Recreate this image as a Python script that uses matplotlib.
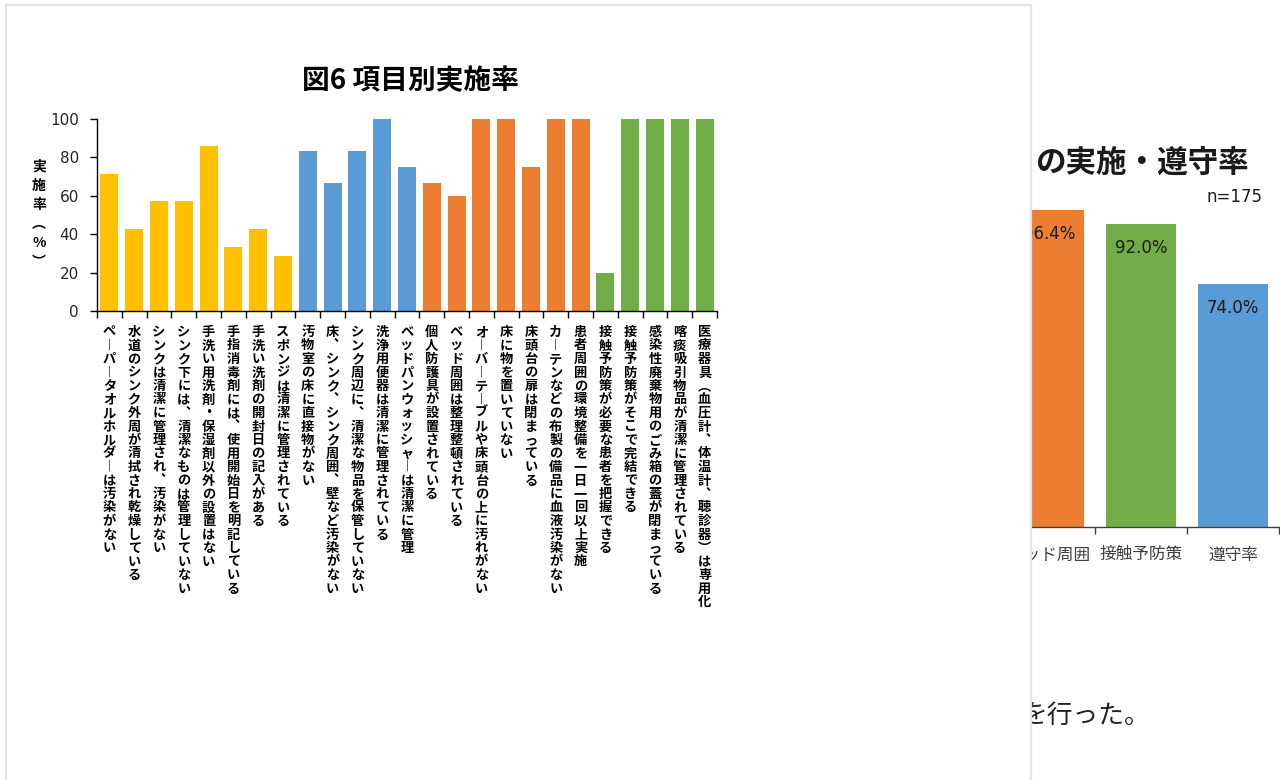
import matplotlib
matplotlib.use("Agg")
import matplotlib.pyplot as plt
from matplotlib.patches import Rectangle
import numpy as np

plt.rcParams['font.family'] = ['Noto Sans CJK JP', 'DejaVu Sans']

# ---------------- data ----------------
title_main = "図6 項目別実施率"
ylabel_main = "実施率（%）"
items = [
    "ペーパータオルホルダーは汚染がない",
    "水道のシンク外周が清拭され乾燥している",
    "シンクは清潔に管理され、汚染がない",
    "シンク下には、清潔なものは管理していない",
    "手洗い用洗剤・保湿剤以外の設置はない",
    "手指消毒剤には、使用開始日を明記している",
    "手洗い洗剤の開封日の記入がある",
    "スポンジは清潔に管理されている",
    "汚物室の床に直接物がない",
    "床、シンク、シンク周囲、壁など汚染がない",
    "シンク周辺に、清潔な物品を保管していない",
    "洗浄用便器は清潔に管理されている",
    "ベッドパンウォッシャーは清潔に管理",
    "個人防護具が設置されている",
    "ベッド周囲は整理整頓されている",
    "オーバーテーブルや床頭台の上に汚れがない",
    "床に物を置いていない",
    "床頭台の扉は閉まっている",
    "カーテンなどの布製の備品に血液汚染がない",
    "患者周囲の環境整備を一日一回以上実施",
    "接触予防策が必要な患者を把握できる",
    "接触予防策がそこで完結できる",
    "感染性廃棄物用のごみ箱の蓋が閉まっている",
    "喀痰吸引物品が清潔に管理されている",
    "医療器具(血圧計、体温計、聴診器)は専用化",
]
rates = [71.4, 42.9, 57.1, 57.1, 85.7, 33.3, 42.9, 28.6,
         83.3, 66.7, 83.3, 100.0, 75.0,
         66.7, 60.0, 100.0, 100.0, 75.0, 100.0, 100.0,
         20.0, 100.0, 100.0, 100.0, 100.0]
groups = ["手洗い"] * 8 + ["汚物室"] * 5 + ["ベッド周囲"] * 7 + ["接触予防策"] * 5
group_colors = {"手洗い": "#FFC000", "汚物室": "#5B9BD5",
                "ベッド周囲": "#ED7D31", "接触予防策": "#70AD47"}
yticks_main = [0, 20, 40, 60, 80, 100]

# background (partly hidden) chart
back_title = "の実施・遵守率"
back_note = "n=175"
back_cats = ["ベッド周囲", "接触予防策", "遵守率"]
back_vals = [96.4, 92.0, 74.0]
back_colors = ["#ED7D31", "#70AD47", "#5B9BD5"]
back_text = "を行った。"

# ---------------- figure ----------------
W, H = 1280, 780
fig = plt.figure(figsize=(W / 100, H / 100), dpi=100)
fig.patch.set_facecolor("white")

def fx(px):
    return px / W

def fy(py):
    return 1 - py / H

# ---- background chart ----
axb = fig.add_axes([fx(1003), fy(527), fx(1279) - fx(1003), fy(198) - fy(527)], zorder=0)
xb = np.arange(len(back_cats))
axb.bar(xb, back_vals, width=0.77, color=back_colors)
axb.set_xlim(-0.5, len(back_cats) - 0.5)
axb.set_ylim(0, 100)
for s in ("top", "right", "left"):
    axb.spines[s].set_visible(False)
axb.spines["bottom"].set_color("#404040")
axb.spines["bottom"].set_linewidth(1.0)
axb.set_yticks([])
axb.set_xticks(np.arange(len(back_cats) + 1) - 0.5)
axb.set_xticklabels([])
axb.tick_params(axis="x", length=5, width=1, color="#404040", direction="out")
axb.set_xticks(xb, minor=True)
axb.set_xticklabels(back_cats, minor=True, fontsize=12, color="#404040")
axb.tick_params(axis="x", which="minor", length=0, pad=14)
for x, v in zip(xb, back_vals):
    axb.annotate(f"{v:.1f}%", xy=(x, v), xytext=(0, -24), textcoords="offset pixels",
                 ha="center", va="center", fontsize=12, color="#1a1a1a",
                 family=["DejaVu Sans"])
axb.set_facecolor("none")

fig.text(fx(1249), fy(163), back_title, ha="right", va="center", fontsize=22,
         fontweight="bold", color="#1a1a1a", zorder=0.2)
fig.text(fx(1263), fy(197), back_note, ha="right", va="center", fontsize=12,
         color="#1a1a1a", family=["DejaVu Sans"], zorder=0.2)
fig.text(fx(1022), fy(716), back_text, ha="left", va="center", fontsize=18.5,
         color="#222222", zorder=0.2)

# ---- white box ----
box = Rectangle((fx(6), fy(800)), fx(1031) - fx(6), fy(5) - fy(800),
                transform=fig.transFigure, facecolor="white",
                edgecolor="#e3e3e3", linewidth=1.6, zorder=1)
fig.patches.append(box)

# ---- main chart ----
ax = fig.add_axes([fx(97), fy(311), fx(717) - fx(97), fy(119) - fy(311)], zorder=2)
ax.set_facecolor("none")
x = np.arange(len(items))
ax.bar(x, rates, width=0.73, color=[group_colors[g] for g in groups])
ax.set_xlim(-0.5, len(items) - 0.5)
ax.set_ylim(0, 100)
ax.set_yticks(yticks_main)
ax.set_yticklabels([str(t) for t in yticks_main], fontsize=11, color="#262626",
                   family=["DejaVu Sans"])
ax.tick_params(axis="y", length=5, width=1, color="#000000", pad=8)
ax.set_xticks(np.arange(len(items) + 1) - 0.5)
ax.set_xticklabels([])
ax.tick_params(axis="x", length=5, width=1, color="#000000")
for s in ("top", "right"):
    ax.spines[s].set_visible(False)
for s in ("left", "bottom"):
    ax.spines[s].set_color("#000000")
    ax.spines[s].set_linewidth(1.0)

vmap = {"ー": "︱", "、": "︑", "(": "︵", ")": "︶", "（": "︵", "）": "︶"}

def vchars(s):
    return [vmap.get(c, c) for c in s]

pitch = 13.5
for xi, label in zip(x, items):
    for j, ch in enumerate(vchars(label)):
        ax.annotate(ch, xy=(xi, 0), xycoords=ax.get_xaxis_transform(),
                    xytext=(0, -21 - j * pitch), textcoords="offset pixels",
                    ha="center", va="center", fontsize=9.5, fontweight="bold",
                    color="#000000", annotation_clip=False)

# y label (vertical writing)
ylab_pitch = 19
for j, ch in enumerate(vchars(ylabel_main)):
    fig.text(fx(39), fy(167 + j * ylab_pitch), ch, ha="center", va="center",
             fontsize=10, fontweight="bold", color="#000000", zorder=3)

fig.text(fx(410), fy(81), title_main, ha="center", va="center", fontsize=20,
         fontweight="bold", color="#000000", zorder=3)

fig.savefig("out.png", dpi=100, facecolor="white")
